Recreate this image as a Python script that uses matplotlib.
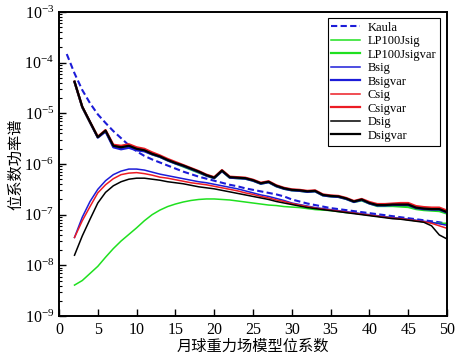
import numpy as np
import matplotlib
matplotlib.use("Agg")
import matplotlib.pyplot as plt
from matplotlib.ticker import LogLocator, NullFormatter

plt.rcParams["font.family"] = ["Liberation Serif", "DejaVu Serif"]
plt.rcParams["mathtext.fontset"] = "stix"

# degree axis
deg_kaula = list(range(1, 51))
deg = list(range(2, 51))

# log10 of the power spectrum
kaula_log = [-3.83, -4.21, -4.54, -4.80, -5.02, -5.19, -5.35, -5.49, -5.63, -5.75,
             -5.84, -5.91, -5.97, -6.03, -6.09, -6.15, -6.20, -6.25, -6.29, -6.33,
             -6.37, -6.41, -6.44, -6.48, -6.51, -6.54, -6.57, -6.60, -6.64, -6.70,
             -6.74, -6.78, -6.81, -6.84, -6.87, -6.89, -6.91, -6.93, -6.95, -6.97,
             -6.99, -7.01, -7.03, -7.05, -7.07, -7.09, -7.11, -7.13, -7.15, -7.18]

lp_sig_log = [-8.39, -8.30, -8.16, -8.02, -7.84, -7.67, -7.52, -7.39, -7.26, -7.12,
              -7.00, -6.91, -6.84, -6.79, -6.75, -6.72, -6.70, -6.69, -6.69, -6.70,
              -6.71, -6.73, -6.75, -6.77, -6.79, -6.81, -6.82, -6.84, -6.85, -6.86,
              -6.88, -6.90, -6.91, -6.92, -6.94, -6.96, -6.97, -6.99, -7.01, -7.03,
              -7.05, -7.06, -7.08, -7.10, -7.12, -7.14, -7.16, -7.17, -7.17]
b_sig_log = [-7.45, -7.05, -6.74, -6.50, -6.33, -6.21, -6.14, -6.10, -6.10, -6.12,
             -6.16, -6.20, -6.23, -6.26, -6.29, -6.32, -6.35, -6.37, -6.40, -6.43,
             -6.46, -6.49, -6.53, -6.57, -6.61, -6.64, -6.68, -6.72, -6.77, -6.80,
             -6.83, -6.86, -6.88, -6.90, -6.92, -6.94, -6.96, -6.98, -7.00, -7.02,
             -7.04, -7.06, -7.07, -7.09, -7.11, -7.13, -7.15, -7.18, -7.21]
c_sig_log = [-7.45, -7.12, -6.84, -6.57, -6.41, -6.29, -6.21, -6.18, -6.17, -6.19,
             -6.22, -6.26, -6.28, -6.31, -6.34, -6.37, -6.39, -6.41, -6.44, -6.47,
             -6.50, -6.53, -6.57, -6.60, -6.64, -6.67, -6.71, -6.74, -6.78, -6.81,
             -6.84, -6.87, -6.89, -6.91, -6.93, -6.95, -6.97, -6.99, -7.01, -7.03,
             -7.05, -7.07, -7.08, -7.10, -7.12, -7.14, -7.17, -7.22, -7.27]
d_sig_log = [-7.80, -7.42, -7.09, -6.77, -6.56, -6.43, -6.35, -6.30, -6.28, -6.28,
             -6.30, -6.32, -6.35, -6.37, -6.39, -6.42, -6.45, -6.47, -6.49, -6.52,
             -6.55, -6.58, -6.61, -6.64, -6.67, -6.70, -6.74, -6.77, -6.80, -6.83,
             -6.86, -6.88, -6.90, -6.92, -6.94, -6.96, -6.98, -7.00, -7.02, -7.04,
             -7.06, -7.08, -7.09, -7.11, -7.13, -7.15, -7.22, -7.40, -7.48]

lp_var_log = [-4.38, -4.88, -5.18, -5.47, -5.35, -5.65, -5.68, -5.65, -5.71, -5.74,
              -5.81, -5.86, -5.93, -5.99, -6.05, -6.11, -6.17, -6.23, -6.28, -6.14,
              -6.27, -6.28, -6.29, -6.33, -6.39, -6.36, -6.44, -6.49, -6.52, -6.53,
              -6.55, -6.54, -6.62, -6.64, -6.65, -6.69, -6.75, -6.72, -6.78, -6.83,
              -6.83, -6.83, -6.84, -6.85, -6.89, -6.91, -6.92, -6.93, -6.98]
b_var_log = [-4.38, -4.88, -5.18, -5.48, -5.36, -5.67, -5.71, -5.68, -5.73, -5.75,
             -5.81, -5.86, -5.93, -5.99, -6.04, -6.10, -6.16, -6.23, -6.28, -6.14,
             -6.27, -6.28, -6.29, -6.33, -6.39, -6.36, -6.44, -6.49, -6.52, -6.53,
             -6.55, -6.54, -6.62, -6.64, -6.65, -6.69, -6.75, -6.71, -6.78, -6.82,
             -6.82, -6.81, -6.81, -6.81, -6.87, -6.89, -6.90, -6.90, -6.96]
c_var_log = [-4.375, -4.87, -5.17, -5.46, -5.33, -5.62, -5.64, -5.61, -5.67, -5.70,
             -5.77, -5.83, -5.90, -5.96, -6.02, -6.08, -6.14, -6.21, -6.26, -6.12,
             -6.25, -6.26, -6.27, -6.31, -6.37, -6.34, -6.42, -6.47, -6.50, -6.51,
             -6.53, -6.52, -6.60, -6.62, -6.63, -6.67, -6.73, -6.69, -6.75, -6.79,
             -6.79, -6.78, -6.77, -6.77, -6.83, -6.85, -6.86, -6.86, -6.92]
d_var_log = [-4.375, -4.87, -5.17, -5.47, -5.34, -5.64, -5.67, -5.64, -5.70, -5.73,
             -5.80, -5.85, -5.92, -5.98, -6.03, -6.09, -6.15, -6.22, -6.27, -6.13,
             -6.26, -6.27, -6.28, -6.32, -6.38, -6.35, -6.43, -6.48, -6.51, -6.52,
             -6.54, -6.53, -6.61, -6.63, -6.64, -6.68, -6.74, -6.70, -6.77, -6.81,
             -6.81, -6.80, -6.80, -6.80, -6.86, -6.88, -6.89, -6.89, -6.95]

BLUE = "#1c1cd8"
GREEN = "#1fe01f"
RED = "#ec1c24"
BLACK = "#000000"

fig = plt.figure(figsize=(4.59, 3.58), dpi=100)
ax = fig.add_axes([0.1285, 0.1173, 0.8455, 0.8492])

ax.plot(deg_kaula, 10 ** np.array(kaula_log), color=BLUE, lw=1.5,
        ls=(0, (3, 1.6)), label="Kaula")
series = [
    ("LP100Jsig", lp_sig_log, GREEN, 1.1),
    ("LP100Jsigvar", lp_var_log, GREEN, 1.6),
    ("Bsig", b_sig_log, BLUE, 1.1),
    ("Bsigvar", b_var_log, BLUE, 1.6),
    ("Csig", c_sig_log, RED, 1.1),
    ("Csigvar", c_var_log, RED, 1.6),
    ("Dsig", d_sig_log, BLACK, 1.1),
    ("Dsigvar", d_var_log, BLACK, 1.6),
]
for name, vals, col, lw in series:
    ax.plot(deg, 10 ** np.array(vals), color=col, lw=lw, label=name)

ax.set_yscale("log")
ax.set_xlim(0, 50)
ax.set_ylim(1e-9, 1e-3)
ax.set_xticks(range(0, 51, 5))
ax.yaxis.set_major_locator(LogLocator(base=10, numticks=10))
ax.yaxis.set_minor_locator(LogLocator(base=10, subs=np.arange(2, 10), numticks=10))
ax.yaxis.set_minor_formatter(NullFormatter())
ax.tick_params(axis="both", which="major", direction="in", length=5, width=1,
               labelsize=11.5, top=False, right=False)
ax.tick_params(axis="y", which="minor", direction="in", length=2.5, width=0.8, right=False)
ax.tick_params(axis="x", which="major", pad=4)
for sp in ax.spines.values():
    sp.set_linewidth(1.4)

cjk = ["Noto Sans CJK SC", "DejaVu Sans"]
ax.set_xlabel("月球重力场模型位系数", family=cjk, fontsize=11, labelpad=0)
ax.set_ylabel("位系数功率谱", family=cjk, fontsize=11, labelpad=0)

leg = ax.legend(loc="upper right", bbox_to_anchor=(0.982, 0.98), fontsize=9,
                frameon=True, fancybox=False, edgecolor="black", framealpha=1,
                labelspacing=0.12, handlelength=2.3, handletextpad=0.6,
                borderpad=0.3, borderaxespad=0)
leg.get_frame().set_linewidth(0.8)

fig.savefig("out.png", dpi=100)
